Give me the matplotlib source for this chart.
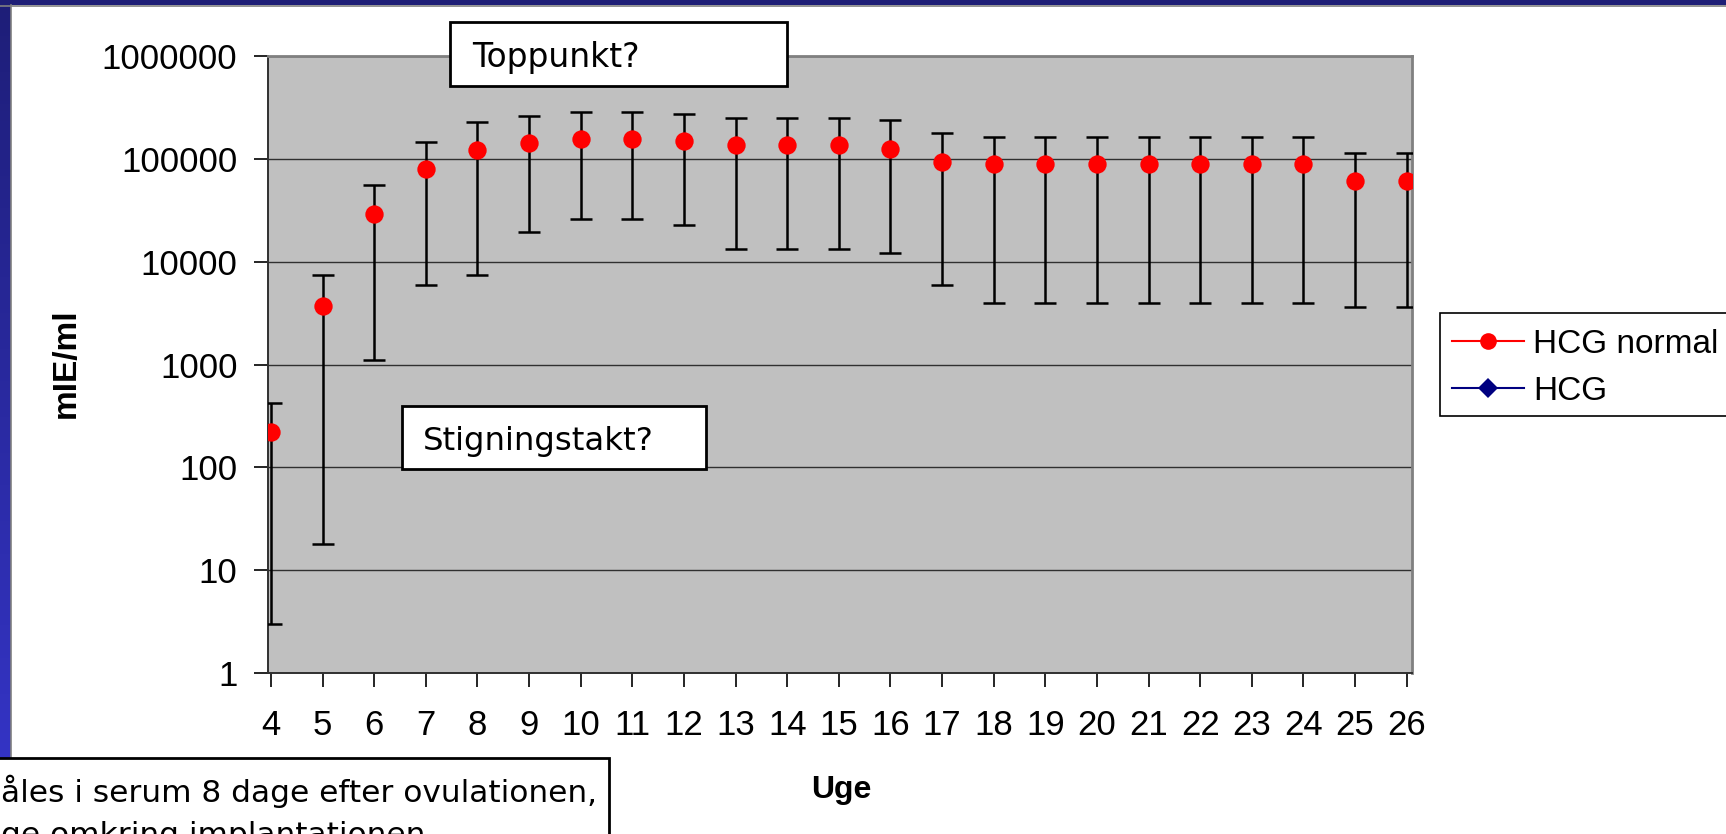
import numpy as np
import matplotlib
matplotlib.use("Agg")
import matplotlib.pyplot as plt
from matplotlib.patches import Rectangle
from matplotlib.lines import Line2D
from matplotlib.ticker import NullLocator

# ---------------- data ----------------
weeks = list(range(4, 27))
hcg_normal = [220, 3700, 29000, 80000, 122000, 142000, 156000, 156000, 149000,
              136000, 136000, 136000, 123000, 92000, 88000, 88000, 88000, 88000,
              88000, 88000, 88000, 60000, 60000]
hcg_upper = [420, 7400, 55000, 145000, 225000, 258000, 286000, 286000, 271000,
             247000, 247000, 247000, 236000, 177000, 161000, 161000, 161000,
             161000, 161000, 161000, 161000, 114000, 114000]
hcg_lower = [3, 18, 1100, 5900, 7450, 19400, 25700, 25700, 22500, 13100, 13100,
             13100, 12000, 5900, 4000, 4000, 4000, 4000, 4000, 4000, 4000, 3600,
             3600]
y_ticks = [1, 10, 100, 1000, 10000, 100000, 1000000]
y_tick_labels = ["1", "10", "100", "1000", "10000", "100000", "1000000"]
x_tick_labels = [str(w) for w in weeks]
series_labels = ["HCG normal", "HCG"]
x_title = "Uge"
y_title = "mIE/ml"
note_top = "Toppunkt?"
note_mid = "Stigningstakt?"
note_bottom = ["åles i serum 8 dage efter ovulationen,", "ge omkring implantationen"]

plt.rcParams['font.family'] = ['Liberation Sans', 'DejaVu Sans']

W, H = 1726, 834
fig = plt.figure(figsize=(W / 100, H / 100), dpi=100)
fig.patch.set_facecolor('white')


def fx(x):
    return x / W


def fy(y):
    return 1 - y / H


# ---------------- slide decoration ----------------
band = fig.add_axes([0, 0, fx(10), 1])
grad = np.linspace(0, 1, 256)[:, None]
c0 = np.array([0x1E, 0x1E, 0x78]) / 255
c1 = np.array([0x36, 0x36, 0xCC]) / 255
img = (c0[None, None, :] * (1 - grad[..., None]) + c1[None, None, :] * grad[..., None])
band.imshow(img, aspect='auto', extent=[0, 1, 0, 1], origin='upper')
band.set_axis_off()
fig.patches.append(Rectangle((0, fy(5)), 1, 5 / H, transform=fig.transFigure,
                             facecolor='#1E1E76', edgecolor='none', zorder=5))
fig.lines.append(Line2D([0, 1], [fy(5.5), fy(5.5)], transform=fig.transFigure,
                        color='#808080', lw=1.2, zorder=6))
fig.lines.append(Line2D([fx(10.5), fx(10.5)], [fy(5), 0], transform=fig.transFigure,
                        color='#808080', lw=1.2, zorder=6))

# ---------------- main axes ----------------
ax = fig.add_axes([fx(268), fy(673.3), (1412 - 268) / W, (673.3 - 55.7) / H])
ax.set_facecolor('#C0C0C0')
ax.set_yscale('log')
ax.set_ylim(1, 1e6)
ax.set_xlim(3.942, 26.104)

hcg = np.array(hcg_normal, dtype=float)
yerr = [hcg - np.array(hcg_lower), np.array(hcg_upper) - hcg]
ax.errorbar(weeks, hcg, yerr=yerr, fmt='none', ecolor='black', elinewidth=1.8,
            capsize=8, capthick=1.8, zorder=3)
ax.plot(weeks, hcg, linestyle='none', marker='o', color='#FF0000',
        markersize=13.2, markeredgewidth=0, zorder=4)

ax.set_yticks(y_ticks)
ax.set_yticklabels(y_tick_labels)
ax.yaxis.set_minor_locator(NullLocator())
ax.set_xticks(weeks)
ax.set_xticklabels(x_tick_labels)
ax.tick_params(axis='y', length=10, width=1.2, pad=12, labelsize=25, colors='black')
ax.tick_params(axis='x', length=10, width=1.2, pad=16, labelsize=25, colors='black')
ax.yaxis.grid(True, color='#303030', lw=1.0)
ax.set_axisbelow(True)
for s in ['top', 'right']:
    ax.spines[s].set_color('#808080')
    ax.spines[s].set_linewidth(2)
for s in ['left', 'bottom']:
    ax.spines[s].set_color('#303030')
    ax.spines[s].set_linewidth(1.4)

fig.text(fx(841), fy(790), x_title, ha='center', va='center', fontsize=23,
         fontweight='bold')
fig.text(fx(66), fy(363), y_title, ha='center', va='center', fontsize=24,
         fontweight='bold', rotation=90)

# ---------------- legend ----------------
handles = [Line2D([], [], color='#FF0000', lw=1.5, marker='o', markersize=12,
                  markeredgewidth=0),
           Line2D([], [], color='#000080', lw=1.5, marker='D', markersize=10,
                  markeredgewidth=0)]
fig.patches.append(Rectangle((fx(1440), fy(416)), (1760 - 1440) / W, (416 - 313) / H,
                             transform=fig.transFigure, facecolor='white',
                             edgecolor='black', lw=1.2, zorder=1))
leg = fig.legend(handles, series_labels, loc='upper left',
                 bbox_to_anchor=(fx(1452), fy(329)), frameon=False, fontsize=24,
                 handlelength=2.16, handletextpad=0.27, borderpad=0,
                 borderaxespad=0, labelspacing=0.48)
leg.set_zorder(7)

# ---------------- notes ----------------
def note_box(x0, y0, x1, y1, lw=2.0):
    fig.patches.append(Rectangle((fx(x0), fy(y1)), (x1 - x0) / W, (y1 - y0) / H,
                                 transform=fig.transFigure, facecolor='white',
                                 edgecolor='black', lw=lw, zorder=8))


note_box(450, 21.7, 786.7, 85.7)
fig.text(fx(471.7), fy(57), note_top, ha='left', va='center', fontsize=23.8,
         family='DejaVu Sans', zorder=9)
note_box(402, 406, 706, 469)
fig.text(fx(423), fy(441), note_mid, ha='left', va='center', fontsize=23.3,
         family='DejaVu Sans', zorder=9)
note_box(-10, 757.7, 609, 900)
fig.text(fx(1), fy(791), note_bottom[0], ha='left', va='center', fontsize=22.5,
         family='DejaVu Sans', zorder=9)
fig.text(fx(1), fy(836), note_bottom[1], ha='left', va='center', fontsize=22.5,
         family='DejaVu Sans', zorder=9)

fig.savefig('out.png', dpi=100, facecolor='white')
